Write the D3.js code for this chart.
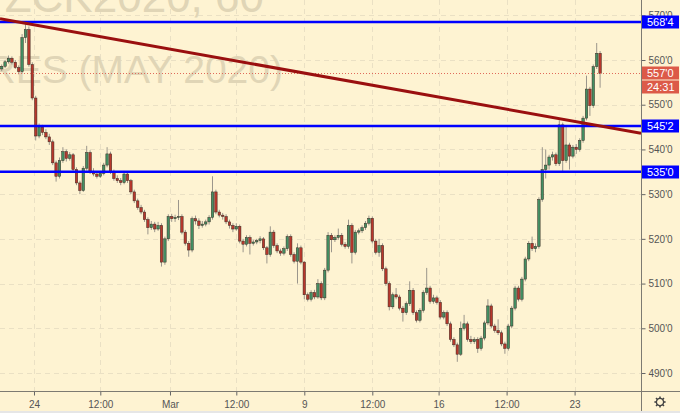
<!DOCTYPE html>
<html>
<head>
<meta charset="utf-8">
<script src="https://cdn.jsdelivr.net/npm/d3@7"></script>
<style>
  body { margin: 0; background: #fef3d2; }
  svg { display: block; font-family: "Liberation Sans", Arial, sans-serif; }
</style>
</head>
<body>
<svg id="chart" width="680" height="413"></svg>
<script>
//* Data (2h candles, ZCK2020)
const opens = [
  558.0, 558.6, 559.6, 560.4, 559.5, 558.3, 557.4, 565.0, 566.8, 559.0,
  551.5, 543.0, 545.0, 543.8, 542.8, 541.7, 537.0, 534.0, 537.5, 539.5,
  538.0, 538.8, 535.5, 532.5, 530.8, 535.8, 539.3, 535.0, 534.5, 534.0,
  534.6, 536.5, 539.0, 535.0, 533.5, 533.0, 532.6, 534.5, 533.0, 530.5,
  528.5, 527.0, 526.0, 524.3, 522.5, 523.3, 522.2, 523.0, 514.8, 520.0,
  525.0, 524.5, 524.8, 525.0, 521.5, 519.0, 517.5, 524.5, 524.0, 523.0,
  523.3, 523.8, 524.8, 530.5, 526.0, 525.3, 525.0, 523.8, 523.0, 522.2,
  522.8, 519.5, 518.8, 520.3, 519.0, 519.3, 519.6, 520.0, 518.0, 516.5,
  521.5, 518.5, 517.3, 516.8, 517.8, 520.5, 516.5, 515.0, 518.0, 514.8,
  507.5, 506.5, 508.0, 507.0, 510.0, 506.8, 513.0, 520.8, 519.8, 520.3,
  520.8, 518.8, 518.3, 523.0, 517.0, 521.5, 521.8, 522.5, 523.5, 524.6,
  519.5, 517.0, 518.5, 513.3, 510.0, 504.8, 507.5, 507.0, 504.5, 503.5,
  505.5, 508.5, 503.5, 501.8, 504.0, 508.0, 509.0, 506.0, 506.8, 505.8,
  502.5, 503.5, 501.0, 497.5, 496.3, 494.2, 500.0, 501.0, 497.5, 497.0,
  497.5, 495.5, 497.8, 501.2, 505.0, 500.5, 499.5, 499.0, 496.5, 495.5,
  500.5, 504.5, 509.0, 506.5, 511.0, 515.5, 519.0, 517.8, 518.3, 528.8,
  535.5, 536.5, 538.3, 538.8, 536.8, 545.5, 537.5, 541.0, 538.5, 540.5,
  540.0, 542.0, 547.0, 553.5, 549.8, 558.5, 561.5
];
const highs = [
  559.0, 560.0, 561.0, 560.8, 560.0, 558.8, 565.8, 568.6, 567.5, 559.5,
  552.0, 545.8, 545.5, 544.5, 543.5, 542.2, 537.5, 538.2, 540.5, 540.0,
  539.4, 539.2, 536.0, 533.0, 536.3, 540.8, 539.8, 535.8, 535.0, 535.2,
  537.0, 540.5, 539.5, 535.5, 534.2, 533.6, 535.2, 535.0, 533.4, 531.0,
  529.0, 527.6, 526.5, 524.8, 524.0, 523.8, 523.8, 523.5, 520.5, 525.5,
  525.6, 525.4, 528.7, 525.5, 522.0, 519.5, 525.0, 525.2, 524.6, 524.0,
  524.3, 525.3, 534.0, 531.0, 526.5, 525.8, 525.5, 524.3, 523.5, 523.5,
  523.2, 520.0, 520.8, 520.8, 519.8, 520.0, 520.6, 520.4, 518.4, 522.8,
  522.0, 519.0, 517.8, 518.3, 521.0, 521.0, 517.0, 519.0, 518.5, 515.0,
  508.0, 508.5, 508.6, 511.0, 510.5, 513.5, 521.5, 521.3, 520.8, 522.3,
  521.3, 519.3, 524.3, 523.5, 522.0, 522.3, 523.0, 524.0, 525.2, 525.0,
  520.0, 520.0, 519.0, 513.8, 510.5, 508.0, 509.0, 507.5, 505.0, 506.0,
  510.5, 509.0, 504.0, 504.5, 508.5, 513.5, 509.5, 507.5, 507.3, 506.3,
  504.0, 504.0, 501.5, 498.0, 496.8, 501.5, 503.0, 501.5, 498.3, 498.0,
  498.0, 498.3, 501.7, 506.5, 505.5, 501.0, 502.0, 499.5, 497.0, 501.0,
  505.0, 509.5, 509.5, 511.5, 516.0, 519.5, 520.5, 519.0, 529.3, 540.5,
  540.0, 538.8, 539.5, 539.3, 546.5, 546.0, 545.0, 541.5, 541.0, 541.2,
  542.5, 547.5, 556.5, 554.0, 559.0, 563.8, 562.0
];
const lows = [
  557.5, 558.2, 559.2, 559.0, 558.0, 556.8, 557.0, 563.8, 558.5, 551.0,
  542.0, 542.5, 543.2, 542.3, 541.0, 536.5, 532.8, 533.5, 537.0, 537.3,
  537.5, 535.0, 532.0, 530.0, 530.5, 535.3, 534.5, 534.0, 533.5, 533.6,
  534.2, 536.0, 534.5, 533.0, 532.5, 532.0, 532.2, 532.5, 530.0, 528.0,
  526.5, 525.5, 523.8, 521.0, 522.0, 521.5, 521.8, 513.8, 514.2, 519.5,
  523.8, 523.8, 524.2, 521.0, 518.5, 516.0, 517.0, 523.2, 522.2, 522.5,
  522.8, 523.2, 524.3, 525.5, 524.8, 524.3, 523.3, 522.3, 521.5, 521.8,
  519.0, 517.0, 518.3, 516.5, 518.5, 518.8, 519.0, 517.5, 514.5, 516.0,
  518.0, 516.8, 516.2, 516.3, 517.3, 516.0, 514.5, 510.0, 514.3, 506.5,
  506.0, 506.0, 506.5, 506.6, 506.3, 506.3, 512.5, 517.0, 519.3, 519.8,
  518.3, 517.8, 517.8, 514.5, 516.5, 521.0, 521.3, 522.0, 523.0, 519.0,
  516.5, 516.0, 512.8, 509.5, 504.0, 504.3, 506.5, 504.0, 501.5, 503.0,
  505.0, 503.0, 501.3, 501.3, 503.5, 507.5, 505.5, 505.5, 505.3, 502.0,
  502.0, 500.5, 497.0, 495.8, 492.5, 493.8, 499.5, 497.0, 496.5, 496.5,
  494.5, 495.0, 497.3, 500.7, 500.0, 499.0, 498.5, 496.0, 494.3, 495.0,
  500.0, 504.0, 506.0, 506.0, 510.5, 515.0, 517.3, 517.0, 517.8, 528.3,
  533.5, 535.5, 537.5, 536.3, 536.3, 535.0, 537.0, 535.5, 538.0, 539.0,
  539.5, 541.5, 546.5, 547.5, 549.3, 558.0, 553.8
];
const closes = [
  558.6, 559.6, 560.4, 559.5, 558.3, 557.4, 565.0, 566.8, 559.0, 551.5,
  543.0, 545.0, 543.8, 542.8, 541.7, 537.0, 534.0, 537.5, 539.5, 538.0,
  538.8, 535.5, 532.5, 530.8, 535.8, 539.3, 535.0, 534.5, 534.0, 534.6,
  536.5, 539.0, 535.0, 533.5, 533.0, 532.6, 534.5, 533.0, 530.5, 528.5,
  527.0, 526.0, 524.3, 522.5, 523.3, 522.2, 523.0, 514.8, 520.0, 525.0,
  524.5, 524.8, 525.0, 521.5, 519.0, 517.5, 524.5, 524.0, 523.0, 523.3,
  523.8, 524.8, 530.5, 526.0, 525.3, 525.0, 523.8, 523.0, 522.2, 522.8,
  519.5, 518.8, 520.3, 519.0, 519.3, 519.6, 520.0, 518.0, 516.5, 521.5,
  518.5, 517.3, 516.8, 517.8, 520.5, 516.5, 515.0, 518.0, 514.8, 507.5,
  506.5, 508.0, 507.0, 510.0, 506.8, 513.0, 520.8, 519.8, 520.3, 520.8,
  518.8, 518.3, 523.0, 517.0, 521.5, 521.8, 522.5, 523.5, 524.6, 519.5,
  517.0, 518.5, 513.3, 510.0, 504.8, 507.5, 507.0, 504.5, 503.5, 505.5,
  508.5, 503.5, 501.8, 504.0, 508.0, 509.0, 506.0, 506.8, 505.8, 502.5,
  503.5, 501.0, 497.5, 496.3, 494.2, 500.0, 501.0, 497.5, 497.0, 497.5,
  495.5, 497.8, 501.2, 505.0, 500.5, 499.5, 499.0, 496.5, 495.5, 500.5,
  504.5, 509.0, 506.5, 511.0, 515.5, 519.0, 517.8, 518.3, 528.8, 535.5,
  536.5, 538.3, 538.8, 536.8, 545.5, 537.5, 541.0, 538.5, 540.5, 540.0,
  542.0, 547.0, 553.5, 549.8, 558.5, 561.5, 557.0
];

const levels = [568.5, 545.25, 535.0];      // horizontal support / resistance
const trendIdx = [7, 164];                  // trendline anchors (bar index)
const trendPrice = [568.2, 546.9];
const lastPrice = 557.0;
const countdown = "24:31";
const priceTicks = [490, 500, 510, 520, 530, 540, 550, 560, 570];
const timeTickIdx = [9.5, 29, 49.5, 69, 89, 109, 128.5, 148.5, 168.5];
const timeTickLabels = ["24", "12:00", "Mar", "12:00", "9", "12:00", "16", "12:00", "23"];

//* Chart area
const width = 680;
const height = 413;
const plotRight = 641;
const plotBottom = 391;

const bg = "#fef3d2";
const gridColor = "#eae0c4";
const upColor = "#438f63";
const downColor = "#b8372c";
const levelColor = "#0000ff";
const trendColor = "#9a0f0f";
const lastColor = "#dc5a48";

const svg = d3.select("#chart");

svg.append("rect").attr("width", width).attr("height", height).attr("fill", bg);

const x = d3.scaleLinear().domain([-0.5, 188.03]).range([0, plotRight]);
const y = d3.scaleLinear().domain([490, 560]).range([373, 60]);

const fmt = v => {
  const whole = Math.floor(v + 1e-9);
  return whole + "'" + Math.round((v - whole) * 8);
};

const plot = svg.append("g");
plot.append("clipPath").attr("id", "clip")
  .append("rect").attr("width", plotRight).attr("height", plotBottom);
plot.attr("clip-path", "url(#clip)");

//* Grid
plot.selectAll(".hgrid")
  .data(priceTicks)
  .enter()
  .append("line")
  .attr("class", "hgrid")
  .attr("x1", 0).attr("x2", plotRight)
  .attr("y1", d => Math.round(y(d)) + 0.5).attr("y2", d => Math.round(y(d)) + 0.5)
  .attr("stroke", gridColor)
  .attr("stroke-dasharray", "5,4");

plot.selectAll(".vgrid")
  .data(timeTickIdx)
  .enter()
  .append("line")
  .attr("class", "vgrid")
  .attr("x1", d => Math.round(x(d)) + 0.5).attr("x2", d => Math.round(x(d)) + 0.5)
  .attr("y1", 0).attr("y2", plotBottom)
  .attr("stroke", gridColor)
  .attr("stroke-dasharray", "5,4");

//* Watermark
const mark = plot.append("g")
  .attr("fill", "#e0d5b6")
  .attr("text-anchor", "end")
  .attr("font-family", "'Liberation Sans', Arial, sans-serif");
mark.append("text")
  .attr("x", 264).attr("y", 12)
  .attr("font-size", 44)
  .text("ZCK2020, 60");
mark.append("text")
  .attr("x", 283).attr("y", 83)
  .attr("font-size", 39)
  .text("CORN FUTURES (MAY 2020)");

//* Candles
const bars = d3.range(closes.length);

plot.selectAll(".wick")
  .data(bars)
  .enter()
  .append("line")
  .attr("class", "wick")
  .attr("x1", i => x(i)).attr("x2", i => x(i))
  .attr("y1", i => y(highs[i])).attr("y2", i => y(lows[i]))
  .attr("stroke", "#9a958b")
  .attr("stroke-width", 1);

plot.selectAll(".body")
  .data(bars)
  .enter()
  .append("rect")
  .attr("class", "body")
  .attr("x", i => x(i) - 1.25)
  .attr("width", 2.5)
  .attr("y", i => y(Math.max(opens[i], closes[i])))
  .attr("height", i => Math.max(1, Math.abs(y(opens[i]) - y(closes[i]))))
  .attr("fill", i => closes[i] >= opens[i] ? upColor : downColor)
  .attr("stroke", "#3a2a22")
  .attr("stroke-width", 0.5);

//* Last price line
plot.append("line")
  .attr("x1", 0).attr("x2", plotRight)
  .attr("y1", Math.round(y(lastPrice)) + 0.5).attr("y2", Math.round(y(lastPrice)) + 0.5)
  .attr("stroke", "#e06a5a")
  .attr("stroke-dasharray", "1,2");

//* Horizontal levels
plot.selectAll(".level")
  .data(levels)
  .enter()
  .append("line")
  .attr("class", "level")
  .attr("x1", 0).attr("x2", plotRight)
  .attr("y1", d => y(d)).attr("y2", d => y(d))
  .attr("stroke", levelColor)
  .attr("stroke-width", 2.5);

//* Trendline, extended across the pane
const slope = (trendPrice[1] - trendPrice[0]) / (trendIdx[1] - trendIdx[0]);
const trendAt = i => trendPrice[0] + slope * (i - trendIdx[0]);
const [i0, i1] = x.domain();
plot.append("line")
  .attr("x1", x(i0)).attr("y1", y(trendAt(i0)))
  .attr("x2", x(i1)).attr("y2", y(trendAt(i1)))
  .attr("stroke", trendColor)
  .attr("stroke-width", 3);

//* Axes
const yAxis = svg.append("g")
  .attr("transform", `translate(${plotRight + 0.5},0)`)
  .call(d3.axisRight(y).tickValues(priceTicks).tickFormat(fmt).tickSize(4).tickPadding(3));
yAxis.select(".domain").remove();
yAxis.selectAll("line").attr("stroke", "#666");
yAxis.selectAll("text").attr("fill", "#555").attr("font-size", 10)
  .attr("font-family", "'Liberation Sans', Arial, sans-serif");

const xAxis = svg.append("g")
  .attr("transform", `translate(0,${plotBottom + 0.5})`)
  .call(d3.axisBottom(x).tickValues(timeTickIdx).tickFormat((d, i) => timeTickLabels[i]).tickSize(4).tickPadding(5));
xAxis.select(".domain").remove();
xAxis.selectAll("line").attr("stroke", "#666");
xAxis.selectAll("text").attr("fill", "#555").attr("font-size", 10)
  .attr("font-family", "'Liberation Sans', Arial, sans-serif");

svg.append("line")
  .attr("x1", plotRight + 0.5).attr("x2", plotRight + 0.5)
  .attr("y1", 0).attr("y2", height)
  .attr("stroke", "#7d7a72");
svg.append("line")
  .attr("x1", 0).attr("x2", width)
  .attr("y1", plotBottom + 0.5).attr("y2", plotBottom + 0.5)
  .attr("stroke", "#7d7a72");
svg.append("rect")
  .attr("x", 0).attr("y", 411).attr("width", width).attr("height", 2)
  .attr("fill", "#e6e6e6");

//* Price labels on the axis
const tags = levels.map(v => ({ v, text: fmt(v), fill: levelColor, dy: 0 }))
  .concat([
    { v: lastPrice, text: fmt(lastPrice), fill: lastColor, dy: 0 },
    { v: lastPrice, text: countdown, fill: lastColor, dy: 14 }
  ]);

const tag = svg.selectAll(".tag")
  .data(tags)
  .enter()
  .append("g")
  .attr("class", "tag")
  .attr("transform", d => `translate(${plotRight + 1},${Math.round(y(d.v)) + d.dy})`);
tag.append("rect")
  .attr("x", 0).attr("y", -6.5)
  .attr("width", 37).attr("height", 13)
  .attr("fill", d => d.fill);
tag.append("text")
  .attr("x", 5).attr("y", 4)
  .attr("fill", "#fff")
  .attr("font-size", 11)
  .text(d => d.text);

//* Settings gear
const gear = svg.append("g")
  .attr("transform", "translate(660,402)")
  .attr("stroke", "#444")
  .attr("fill", "none");
gear.append("circle").attr("r", 3.6).attr("stroke-width", 1.3);
gear.selectAll("line")
  .data(d3.range(8))
  .enter()
  .append("line")
  .attr("x1", d => 3.6 * Math.cos(d * Math.PI / 4)).attr("y1", d => 3.6 * Math.sin(d * Math.PI / 4))
  .attr("x2", d => 5.6 * Math.cos(d * Math.PI / 4)).attr("y2", d => 5.6 * Math.sin(d * Math.PI / 4))
  .attr("stroke-width", 1.6);
</script>
</body>
</html>
